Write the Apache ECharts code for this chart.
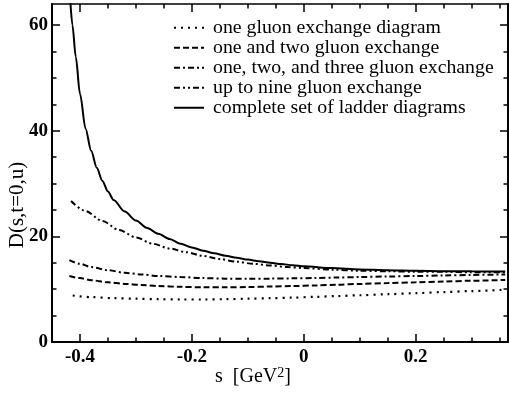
<!DOCTYPE html>
<html>
<head>
<meta charset="utf-8">
<script src="https://cdn.jsdelivr.net/npm/echarts@6/dist/echarts.min.js"></script>
<style>html,body{margin:0;padding:0;background:#fff}#c{width:509px;height:397px}</style>
</head>
<body>
<div id="c"></div>
<script>
// ---- data ----
const seriesNames = [
  'one gluon exchange diagram',
  'one and two gluon exchange',
  'one, two, and three gluon exchange',
  'up to nine gluon exchange',
  'complete set of ladder diagrams'
];
const xOne = [-0.413, -0.38, -0.34, -0.30, -0.26, -0.22, -0.18, -0.14, -0.10, -0.06, -0.02, 0.02, 0.06, 0.10, 0.15, 0.20, 0.25, 0.30, 0.36];
const oneGluon = [8.8, 8.5, 8.3, 8.2, 8.1, 8.05, 8.05, 8.1, 8.2, 8.3, 8.4, 8.55, 8.7, 8.85, 9.05, 9.25, 9.45, 9.65, 9.9];

const xLow = [-0.419, -0.40, -0.38, -0.35, -0.32, -0.29, -0.26, -0.22, -0.18, -0.14, -0.10, -0.06, -0.02, 0.02, 0.06, 0.10, 0.15, 0.20, 0.25, 0.30, 0.36];
const oneTwo = [12.5, 12.1, 11.7, 11.3, 11.0, 10.8, 10.6, 10.45, 10.35, 10.35, 10.4, 10.5, 10.6, 10.7, 10.85, 11.0, 11.15, 11.3, 11.45, 11.6, 11.75];
const oneTwoThree = [15.5, 14.8, 14.2, 13.6, 13.1, 12.8, 12.5, 12.3, 12.1, 12.0, 12.0, 12.0, 12.05, 12.1, 12.2, 12.3, 12.4, 12.5, 12.6, 12.7, 12.8];

const xNine = [-0.416, -0.39, -0.36, -0.33, -0.30, -0.27, -0.24, -0.21, -0.18, -0.15, -0.12, -0.09, -0.06, -0.03, 0, 0.05, 0.10, 0.15, 0.20, 0.25, 0.30, 0.36];
const upToNine = [26.7, 24.8, 22.9, 21.2, 19.8, 18.6, 17.7, 17.0, 16.3, 15.7, 15.2, 14.8, 14.5, 14.2, 14.0, 13.7, 13.5, 13.4, 13.3, 13.3, 13.2, 13.2];

const xLadder = [-0.4175, -0.4135, -0.4075, -0.40, -0.39, -0.38, -0.37, -0.36, -0.35, -0.34, -0.32, -0.30, -0.28, -0.26, -0.24, -0.22, -0.20, -0.18, -0.16, -0.14, -0.12, -0.10, -0.08, -0.06, -0.04, -0.02, 0, 0.05, 0.10, 0.15, 0.20, 0.25, 0.30, 0.36];
const ladder = [65, 60, 54.0, 47.0, 40.4, 36.2, 33.0, 30.5, 28.5, 26.9, 24.7, 23.0, 21.6, 20.5, 19.5, 18.6, 17.9, 17.3, 16.8, 16.35, 15.95, 15.6, 15.3, 15.0, 14.75, 14.55, 14.35, 14.0, 13.75, 13.6, 13.5, 13.42, 13.38, 13.35];

const xMajorTicks = [-0.4, -0.2, 0, 0.2];
const xMinorTicks = [-0.35, -0.3, -0.25, -0.15, -0.1, -0.05, 0.05, 0.1, 0.15, 0.25, 0.3, 0.35];
const yMajorTicks = [0, 20, 40, 60];
const yMinorTicks = [5, 10, 15, 25, 30, 35, 45, 50, 55];

// ---- chart ----
const FONT = '"Liberation Serif", "Times New Roman", serif';
const pair = (xs, ys) => xs.map((x, i) => [x, ys[i]]);
const X_MIN = -0.45, X_MAX = 0.365, Y_MIN = 0, Y_MAX = 64;

function xAx(pos, ticks, len, showLine, labels) {
  return {
    type: 'value', position: pos, min: X_MIN, max: X_MAX, gridIndex: 0,
    axisLine: { show: showLine, onZero: false, lineStyle: { color: '#000', width: pos === 'bottom' ? 2 : 1.5 } },
    axisTick: { show: true, inside: true, length: len, customValues: ticks, lineStyle: { color: '#000', width: 1.5 } },
    axisLabel: labels ? { show: true, customValues: ticks, margin: 6, color: '#000', fontFamily: FONT, fontSize: 19, fontWeight: 'bold',
      formatter: v => (Math.abs(v) < 1e-9 ? '0' : String(+v.toFixed(1))) } : { show: false },
    splitLine: { show: false }
  };
}
function yAx(pos, ticks, len, showLine, labels) {
  return {
    type: 'value', position: pos, min: Y_MIN, max: Y_MAX, gridIndex: 0,
    axisLine: { show: showLine, onZero: false, lineStyle: { color: '#000', width: 2 } },
    axisTick: { show: true, inside: true, length: len, customValues: ticks, lineStyle: { color: '#000', width: 1.5 } },
    axisLabel: labels ? { show: true, customValues: ticks, margin: 4, color: '#000', fontFamily: FONT, fontSize: 19, fontWeight: 'bold' } : { show: false },
    splitLine: { show: false }
  };
}

const lineW = 2;
const styles = [
  { type: [2, 5], width: 2.2, cap: 'butt' },
  { type: [6, 3], width: lineW },
  { type: [6, 3, 2, 3], width: lineW },
  { type: [6, 3, 2, 3, 2, 3], width: lineW },
  { type: 'solid', width: lineW }
];
const dataSets = [pair(xOne, oneGluon), pair(xLow, oneTwo), pair(xLow, oneTwoThree), pair(xNine, upToNine), pair(xLadder, ladder)];

const chart = echarts.init(document.getElementById('c'), null, { renderer: 'canvas' });
chart.setOption({
  animation: false,
  backgroundColor: '#fff',
  color: ['#000'],
  grid: { left: 52, right: 1, top: 4, bottom: 55, containLabel: false },
  xAxis: [
    xAx('bottom', xMinorTicks, 4.5, true, false),
    xAx('bottom', xMajorTicks, 8, false, true),
    xAx('top', xMinorTicks, 4.5, true, false),
    xAx('top', xMajorTicks, 8, false, false)
  ],
  yAxis: [
    yAx('left', yMinorTicks, 4.5, true, false),
    yAx('left', yMajorTicks, 8, false, true),
    yAx('right', yMinorTicks, 4.5, true, false),
    yAx('right', yMajorTicks, 8, false, false)
  ],
  legend: {
    orient: 'vertical', left: 173, top: 17.75, padding: 0,
    itemWidth: 30, itemHeight: 10, itemGap: 0,
    itemStyle: { opacity: 0 },
    textStyle: { color: '#000', fontFamily: FONT, fontSize: 19.8, lineHeight: 19.5, padding: [0, 0, 0, 4] },
    data: seriesNames
  },
  title: {
    text: 's  [GeV{sup|2}]', left: 215, top: 366, padding: 0,
    textStyle: { color: '#000', fontFamily: FONT, fontSize: 20, fontWeight: 'normal', lineHeight: 22,
      rich: { sup: { fontFamily: FONT, fontSize: 14, verticalAlign: 'top', lineHeight: 22, color: '#000' } } }
  },
  graphic: [{
    type: 'text', x: 17, y: 205, rotation: Math.PI / 2,
    style: { text: 'D(s,t=0,u)', fill: '#000', font: '21px ' + FONT, align: 'center', verticalAlign: 'middle' }
  }],
  series: seriesNames.map((n, i) => ({
    name: n, type: 'line', xAxisIndex: 0, yAxisIndex: 0,
    data: dataSets[i], symbol: 'none', smooth: 0.3, smoothMonotone: 'x', clip: true,
    itemStyle: { color: '#000' },
    lineStyle: Object.assign({ color: '#000' }, styles[i])
  }))
});
</script>
</body>
</html>
